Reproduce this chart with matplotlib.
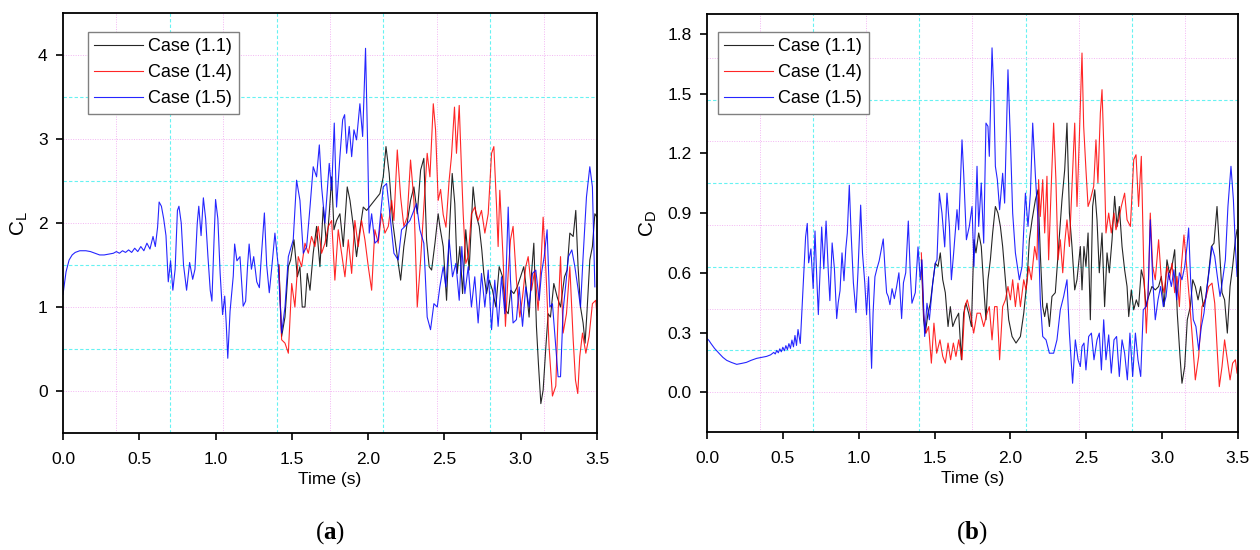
import numpy as np
import matplotlib
matplotlib.use('Agg')
import matplotlib.pyplot as plt

plt.rcParams['font.family'] = ['Liberation Sans', 'DejaVu Sans']
plt.rcParams['mathtext.fontset'] = 'custom'
plt.rcParams['mathtext.rm'] = 'Liberation Sans'
plt.rcParams['mathtext.it'] = 'Liberation Sans'
plt.rcParams['mathtext.bf'] = 'Liberation Serif:bold'

# ---- datos: (tiempo [s], valor) ----
# (a) coeficiente de sustentacion CL
cl_case11 = [(1.415,1.50),(1.433,0.65),(1.455,0.88),(1.477,1.48),(1.492,1.56),(1.514,1.80),(1.536,1.36),(1.553,1.48),
    (1.568,1.00),(1.586,1.00),(1.601,1.40),(1.619,1.20),(1.640,1.64),(1.662,1.96),(1.684,1.48),(1.706,2.19),(1.728,1.72),
    (1.745,2.11),(1.761,2.55),(1.776,1.92),(1.793,2.03),(1.815,2.11),(1.837,1.72),(1.863,2.43),(1.881,2.27),(1.903,1.96),
    (1.924,1.60),(1.946,1.92),(1.968,2.19),(1.990,2.15),(2.077,2.35),(2.099,2.55),(2.117,2.91),(2.138,2.59),(2.160,2.03),
    (2.182,1.72),(2.213,1.32),(2.234,1.72),(2.256,2.00),(2.278,2.27),(2.300,2.43),(2.322,2.11),(2.344,2.63),(2.365,2.77),
    (2.383,1.80),(2.400,1.48),(2.416,1.44),(2.438,1.76),(2.459,2.11),(2.470,1.96),(2.492,1.72),(2.514,1.08),(2.536,2.03),
    (2.551,2.59),(2.568,2.23),(2.584,1.40),(2.601,1.72),(2.619,1.16),(2.640,1.92),(2.662,1.44),(2.688,2.43),(2.706,2.11),
    (2.728,1.96),(2.745,1.68),(2.758,1.40),(2.776,1.16),(2.793,1.32),(2.815,1.20),(2.837,1.00),(2.859,1.48),(2.881,1.36),
    (2.902,0.96),(2.918,0.92),(2.935,1.20),(2.955,1.16),(2.977,1.24),(2.999,1.36),(3.020,1.48),(3.038,1.20),(3.055,0.88),
    (3.071,1.40),(3.086,1.76),(3.103,0.77),(3.116,0.33),(3.132,-0.15),(3.147,0.01),(3.165,0.53),(3.180,0.92),(3.195,0.88),
    (3.217,1.28),(3.239,1.12),(3.261,1.00),(3.287,1.36),(3.304,1.44),(3.322,1.88),(3.344,1.84),(3.361,2.15),(3.376,1.48),
    (3.392,1.00),(3.409,0.81),(3.422,0.57),(3.435,0.96),(3.453,1.56),(3.470,1.72),(3.486,2.11),(3.500,2.07)]

cl_case14 = [(1.415,1.50),(1.433,0.61),(1.455,0.57),(1.477,0.45),(1.499,1.28),(1.520,1.00),(1.542,1.60),(1.564,1.48),
    (1.586,1.76),(1.608,1.64),(1.629,1.84),(1.651,1.72),(1.673,1.96),(1.695,1.64),(1.717,1.76),(1.739,1.96),(1.761,2.03),
    (1.782,1.32),(1.804,1.92),(1.826,1.64),(1.848,1.36),(1.870,1.80),(1.892,1.40),(1.913,2.03),(1.935,1.72),(1.957,2.03),
    (1.979,1.80),(2.001,1.48),(2.023,1.20),(2.044,1.92),(2.066,1.76),(2.088,2.11),(2.110,1.88),(2.132,1.96),(2.154,2.27),
    (2.169,2.03),(2.191,2.87),(2.213,2.31),(2.234,1.96),(2.256,2.07),(2.278,2.75),(2.300,2.27),(2.322,1.00),(2.344,1.56),
    (2.365,2.19),(2.387,2.83),(2.405,2.55),(2.427,3.42),(2.442,3.11),(2.459,2.27),(2.475,2.40),(2.492,2.10),(2.510,1.95),
    (2.531,2.51),(2.546,2.79),(2.566,3.38),(2.579,2.83),(2.597,3.40),(2.612,2.63),(2.623,2.11),(2.640,1.52),(2.656,1.60),
    (2.677,2.11),(2.699,2.19),(2.721,2.03),(2.743,2.15),(2.765,1.88),(2.787,2.11),(2.809,2.83),(2.824,2.91),(2.841,2.23),
    (2.852,1.72),(2.863,2.39),(2.885,1.56),(2.900,0.77),(2.918,1.40),(2.933,1.80),(2.950,1.96),(2.972,1.32),(2.994,0.88),
    (3.012,1.12),(3.033,1.48),(3.049,1.60),(3.071,1.20),(3.092,1.44),(3.114,0.96),(3.132,1.48),(3.147,2.07),(3.165,1.44),
    (3.186,0.53),(3.208,-0.06),(3.230,0.06),(3.245,0.92),(3.261,1.60),(3.278,0.69),(3.300,0.92),(3.322,1.48),(3.344,0.61),
    (3.359,0.13),(3.374,-0.03),(3.387,0.41),(3.405,0.69),(3.427,0.45),(3.448,0.65),(3.470,1.04),(3.492,1.08),(3.500,0.90)]

cl_case15 = [(0.00,1.15),(0.02,1.42),(0.04,1.56),(0.06,1.62),(0.08,1.65),(0.11,1.67),(0.15,1.67),(0.18,1.66),(0.21,1.64),
    (0.24,1.62),(0.27,1.62),(0.30,1.63),(0.33,1.64),(0.35,1.66),(0.37,1.64),(0.39,1.67),(0.41,1.65),(0.43,1.68),(0.45,1.65),
    (0.47,1.70),(0.49,1.66),(0.51,1.72),(0.53,1.67),(0.55,1.76),(0.57,1.69),(0.59,1.84),(0.605,1.72),(0.62,1.95),(0.63,2.25),
    (0.645,2.20),(0.66,2.05),(0.675,1.85),(0.69,1.30),(0.705,1.55),(0.72,1.20),(0.735,1.45),(0.75,2.15),(0.76,2.20),
    (0.775,2.00),(0.79,1.50),(0.81,1.20),(0.83,1.53),(0.85,1.33),(0.865,1.45),(0.88,2.00),(0.89,2.20),(0.905,1.85),
    (0.92,2.30),(0.935,2.05),(0.95,1.60),(0.965,1.20),(0.976,1.07),(0.99,1.80),(1.00,2.28),(1.015,2.05),(1.03,1.40),
    (1.046,0.91),(1.06,1.13),(1.07,0.80),(1.08,0.39),(1.095,0.95),(1.116,1.37),(1.125,1.75),(1.14,1.55),(1.16,1.60),
    (1.181,1.01),(1.197,1.07),(1.21,1.50),(1.22,1.75),(1.235,1.45),(1.25,1.60),(1.27,1.30),(1.287,1.23),(1.30,1.60),
    (1.32,2.12),(1.335,1.50),(1.352,1.17),(1.37,1.50),(1.389,1.88),(1.411,1.48),(1.433,0.69),(1.455,1.00),(1.477,1.60),
    (1.509,1.80),(1.531,2.51),(1.553,2.27),(1.575,1.64),(1.597,1.72),(1.619,2.19),(1.640,2.67),(1.662,2.55),(1.680,2.93),
    (1.695,2.43),(1.717,2.00),(1.745,2.71),(1.761,2.39),(1.778,3.19),(1.793,2.19),(1.815,2.79),(1.833,3.23),(1.846,3.29),
    (1.859,2.83),(1.876,3.15),(1.892,2.79),(1.907,3.11),(1.924,2.99),(1.946,3.42),(1.964,3.03),(1.983,4.08),(1.996,2.99),
    (2.007,1.88),(2.023,2.11),(2.044,1.76),(2.066,1.80),(2.099,2.43),(2.121,2.47),(2.147,2.03),(2.169,1.64),(2.197,1.56),
    (2.219,1.92),(2.241,1.96),(2.274,2.03),(2.317,2.23),(2.339,1.92),(2.365,1.76),(2.387,0.88),(2.409,0.73),(2.431,1.04),
    (2.453,1.00),(2.470,1.24),(2.492,1.48),(2.509,1.24),(2.531,1.80),(2.553,1.36),(2.575,1.52),(2.597,1.08),(2.614,1.72),
    (2.634,1.16),(2.656,1.48),(2.677,1.00),(2.699,1.36),(2.721,0.81),(2.743,1.40),(2.765,1.00),(2.787,1.44),(2.809,0.73),
    (2.830,1.32),(2.852,0.77),(2.874,1.36),(2.896,0.92),(2.918,2.19),(2.933,1.32),(2.950,0.81),(2.972,0.85),(2.990,1.24),
    (3.012,0.77),(3.033,1.24),(3.055,1.00),(3.077,1.40),(3.099,1.44),(3.121,1.08),(3.136,1.40),(3.154,1.60),(3.173,1.92),
    (3.191,1.00),(3.208,1.04),(3.223,0.69),(3.245,0.17),(3.261,0.17),(3.278,0.96),(3.296,1.28),(3.313,1.60),(3.335,1.68),
    (3.355,1.48),(3.374,1.24),(3.392,1.00),(3.409,1.60),(3.431,2.31),(3.453,2.67),(3.470,2.43),(3.486,1.24)]

# (b) coeficiente de arrastre CD
cd_case11 = [(1.413,0.665),(1.428,0.364),(1.439,0.297),(1.457,0.397),(1.472,0.447),(1.488,0.548),(1.505,0.648),
    (1.523,0.632),(1.538,0.700),(1.554,0.565),(1.571,0.500),(1.589,0.330),(1.604,0.430),(1.620,0.330),(1.637,0.364),
    (1.659,0.397),(1.677,0.163),(1.692,0.397),(1.707,0.447),(1.725,0.397),(1.743,0.330),(1.760,0.766),(1.773,0.700),
    (1.791,0.800),(1.808,0.732),(1.824,0.531),(1.839,0.364),(1.852,0.565),(1.868,0.665),(1.883,0.800),(1.901,0.933),
    (1.918,0.900),(1.934,0.833),(1.949,0.732),(1.967,0.565),(1.989,0.364),(2.011,0.280),(2.037,0.247),(2.066,0.280),
    (2.088,0.397),(2.110,0.565),(2.125,0.766),(2.143,0.866),(2.165,0.967),(2.182,1.017),(2.197,0.700),(2.213,0.430),
    (2.226,0.380),(2.241,0.447),(2.257,0.330),(2.274,0.481),(2.296,0.500),(2.318,0.732),(2.340,0.967),(2.358,1.118),
    (2.373,1.352),(2.389,0.900),(2.406,0.732),(2.424,0.514),(2.439,0.565),(2.461,0.732),(2.472,0.514),(2.485,0.732),
    (2.498,0.632),(2.512,0.800),(2.527,0.364),(2.542,0.933),(2.556,1.017),(2.571,0.866),(2.586,0.600),(2.604,0.800),
    (2.621,0.430),(2.637,0.700),(2.652,0.600),(2.670,0.766),(2.687,0.984),(2.703,0.833),(2.718,0.933),(2.736,0.732),
    (2.753,0.615),(2.769,0.531),(2.780,0.380),(2.797,0.514),(2.813,0.414),(2.830,0.464),(2.845,0.430),(2.863,0.615),
    (2.879,0.565),(2.894,0.430),(2.911,0.481),(2.933,0.531),(2.955,0.514),(2.977,0.531),(2.995,0.582),(3.013,0.430),
    (3.032,0.665),(3.048,0.600),(3.065,0.632),(3.083,0.716),(3.100,0.397),(3.118,0.180),(3.131,0.045),(3.149,0.129),
    (3.166,0.364),(3.186,0.430),(3.202,0.565),(3.219,0.531),(3.237,0.464),(3.254,0.531),(3.272,0.430),(3.289,0.481),
    (3.307,0.600),(3.325,0.732),(3.342,0.749),(3.362,0.933),(3.377,0.732),(3.395,0.500),(3.412,0.464),(3.430,0.297),
    (3.448,0.531),(3.465,0.632),(3.483,0.766),(3.494,0.816)]

cd_case14 = [(1.413,0.700),(1.428,0.397),(1.444,0.297),(1.461,0.330),(1.479,0.146),(1.496,0.347),(1.514,0.196),
    (1.536,0.263),(1.554,0.180),(1.571,0.146),(1.589,0.247),(1.606,0.163),(1.624,0.247),(1.641,0.180),(1.659,0.263),
    (1.681,0.163),(1.699,0.430),(1.716,0.464),(1.736,0.397),(1.758,0.297),(1.780,0.397),(1.802,0.397),(1.824,0.330),
    (1.846,0.397),(1.861,0.430),(1.879,0.263),(1.896,0.430),(1.912,0.430),(1.929,0.163),(1.949,0.430),(1.967,0.464),
    (1.984,0.531),(2.000,0.464),(2.015,0.565),(2.033,0.430),(2.050,0.548),(2.066,0.430),(2.088,0.565),(2.103,0.514),
    (2.121,0.632),(2.138,0.565),(2.160,0.732),(2.175,0.665),(2.186,1.068),(2.197,0.883),(2.213,1.068),(2.226,0.800),
    (2.241,1.085),(2.252,0.665),(2.270,1.051),(2.285,1.352),(2.300,1.068),(2.314,0.665),(2.329,0.766),(2.345,0.600),
    (2.358,0.749),(2.373,0.866),(2.389,0.732),(2.406,1.034),(2.424,1.352),(2.439,0.933),(2.454,1.268),(2.472,1.704),
    (2.483,1.336),(2.498,1.118),(2.512,0.933),(2.527,0.967),(2.549,1.034),(2.564,1.268),(2.577,1.051),(2.593,1.403),
    (2.604,1.520),(2.617,1.202),(2.630,0.800),(2.648,0.900),(2.665,0.800),(2.683,0.900),(2.696,0.816),(2.714,0.866),
    (2.731,0.933),(2.753,1.000),(2.769,0.866),(2.791,0.833),(2.813,1.168),(2.828,1.193),(2.845,0.933),(2.863,1.185),
    (2.879,0.632),(2.896,0.297),(2.911,0.565),(2.922,0.900),(2.938,0.632),(2.955,0.565),(2.977,0.766),(2.995,0.565),
    (3.013,0.500),(3.032,0.632),(3.048,0.565),(3.065,0.648),(3.083,0.500),(3.098,0.582),(3.114,0.430),(3.127,0.632),
    (3.144,0.790),(3.162,0.632),(3.180,0.464),(3.197,0.297),(3.219,0.062),(3.241,0.180),(3.263,0.430),(3.285,0.464),
    (3.307,0.531),(3.329,0.548),(3.347,0.447),(3.362,0.230),(3.377,0.028),(3.395,0.129),(3.412,0.263),(3.430,0.163),
    (3.448,0.062),(3.465,0.146),(3.483,0.163),(3.494,0.096)]

cd_case15 = [(0.000,0.270),(0.013,0.260),(0.026,0.245),(0.050,0.220),(0.080,0.195),(0.105,0.175),(0.130,0.160),
    (0.160,0.150),(0.196,0.140),(0.230,0.145),(0.260,0.150),(0.290,0.160),(0.327,0.170),(0.360,0.175),(0.393,0.180),
    (0.420,0.188),(0.440,0.200),(0.450,0.192),(0.460,0.210),(0.470,0.198),(0.480,0.218),(0.490,0.203),(0.500,0.226),
    (0.510,0.208),(0.520,0.234),(0.530,0.214),(0.540,0.244),(0.550,0.220),(0.560,0.262),(0.570,0.228),(0.580,0.285),
    (0.590,0.235),(0.600,0.315),(0.615,0.245),(0.625,0.400),(0.635,0.560),(0.650,0.780),(0.661,0.848),(0.670,0.650),
    (0.685,0.720),(0.700,0.520),(0.712,0.810),(0.725,0.550),(0.734,0.390),(0.745,0.600),(0.756,0.830),(0.770,0.620),
    (0.785,0.860),(0.800,0.600),(0.810,0.460),(0.825,0.750),(0.840,0.620),(0.855,0.370),(0.865,0.450),(0.877,0.510),
    (0.890,0.700),(0.903,0.560),(0.915,0.720),(0.925,0.800),(0.938,1.040),(0.950,0.800),(0.965,0.550),(0.982,0.400),
    (0.995,0.600),(1.013,0.940),(1.025,0.700),(1.040,0.550),(1.052,0.390),(1.065,0.580),(1.075,0.350),(1.085,0.120),
    (1.095,0.400),(1.107,0.580),(1.120,0.620),(1.135,0.660),(1.150,0.720),(1.162,0.770),(1.175,0.600),(1.184,0.500),
    (1.195,0.480),(1.206,0.440),(1.220,0.520),(1.235,0.470),(1.250,0.530),(1.265,0.600),(1.283,0.370),(1.295,0.550),
    (1.310,0.600),(1.327,0.860),(1.340,0.600),(1.351,0.447),(1.373,0.500),(1.391,0.730),(1.406,0.565),(1.417,0.665),
    (1.435,0.280),(1.450,0.447),(1.466,0.364),(1.488,0.548),(1.505,0.648),(1.516,0.665),(1.532,1.000),(1.549,0.900),
    (1.567,0.730),(1.582,1.000),(1.598,0.833),(1.611,0.565),(1.626,0.700),(1.648,0.917),(1.659,0.816),(1.681,1.268),
    (1.692,1.100),(1.710,0.766),(1.729,0.833),(1.747,0.933),(1.760,0.632),(1.780,1.135),(1.791,0.833),(1.808,1.051),
    (1.824,0.749),(1.839,1.352),(1.852,1.336),(1.861,1.185),(1.879,1.730),(1.890,1.520),(1.901,1.135),(1.914,1.068),
    (1.929,0.917),(1.949,1.100),(1.962,0.950),(1.984,1.620),(2.000,1.268),(2.015,0.900),(2.033,0.700),(2.059,0.565),
    (2.077,0.632),(2.099,1.000),(2.116,0.833),(2.132,1.000),(2.147,1.352),(2.165,1.085),(2.182,0.866),(2.197,0.464),
    (2.213,0.280),(2.235,0.263),(2.257,0.196),(2.285,0.196),(2.307,0.263),(2.329,0.414),(2.351,0.481),(2.373,0.565),
    (2.389,0.297),(2.410,0.045),(2.428,0.263),(2.446,0.163),(2.461,0.129),(2.472,0.230),(2.485,0.247),(2.498,0.112),
    (2.516,0.280),(2.534,0.297),(2.551,0.163),(2.571,0.263),(2.586,0.297),(2.600,0.112),(2.615,0.364),(2.630,0.163),
    (2.648,0.288),(2.665,0.096),(2.683,0.263),(2.700,0.280),(2.718,0.079),(2.736,0.263),(2.753,0.196),(2.771,0.062),
    (2.788,0.297),(2.806,0.079),(2.824,0.297),(2.841,0.163),(2.859,0.079),(2.876,0.414),(2.894,0.430),(2.907,0.481),
    (2.922,0.866),(2.938,0.565),(2.955,0.364),(2.973,0.464),(2.990,0.531),(3.008,0.430),(3.026,0.481),(3.043,0.600),
    (3.061,0.531),(3.078,0.615),(3.096,0.464),(3.114,0.600),(3.131,0.565),(3.149,0.632),(3.164,0.732),(3.175,0.825),
    (3.188,0.565),(3.206,0.364),(3.223,0.330),(3.241,0.213),(3.259,0.330),(3.276,0.397),(3.294,0.514),(3.311,0.615),
    (3.329,0.732),(3.347,0.682),(3.364,0.582),(3.382,0.481),(3.399,0.565),(3.417,0.665),(3.434,0.933),(3.454,1.135),
    (3.470,0.967),(3.483,0.732),(3.494,0.582)]

etiquetas = ['Case (1.1)', 'Case (1.4)', 'Case (1.5)']
colores = ['#000000', '#ff0000', '#0000ff']

'''Dibuja la rejilla desplazada tipo Origin'''
def rejilla(ax, pasoX, pasoY, ymin, ymax):
    for k in range(1, 10):
        x = k*pasoX
        if x >= 3.5:
            break
        if k % 2 == 0:
            ax.axvline(x, color='#66f2f2', lw=0.8, ls=(0, (3, 2)), zorder=0)
        else:
            ax.axvline(x, color='#f3b6f3', lw=0.7, ls=(0, (1, 1.5)), zorder=0)
    k = 0
    while True:
        y = k*pasoY
        if y >= ymax-0.05:
            break
        if y > ymin:
            if k % 2 == 0:
                ax.axhline(y, color='#f3b6f3', lw=0.7, ls=(0, (1, 1.5)), zorder=0)
            else:
                ax.axhline(y, color='#66f2f2', lw=0.8, ls=(0, (3, 2)), zorder=0)
        k += 1

'''Grafica un panel con las tres series'''
def panel(ax, series, ymin, ymax, yticks, fmt, ylabel, pasoY, leg_anchor):
    rejilla(ax, 0.35, pasoY, ymin, ymax)
    for datos, nombre, c in zip(series, etiquetas, colores):
        d = np.array(datos)
        ax.plot(d[:, 0], d[:, 1], color=c, lw=0.8, alpha=0.85, label=nombre)
    ax.set_xlim(0, 3.5)
    ax.set_ylim(ymin, ymax)
    ax.set_xticks(np.arange(0, 3.51, 0.5))
    ax.set_xticklabels(['%.1f' % v for v in np.arange(0, 3.51, 0.5)])
    ax.set_yticks(yticks)
    ax.set_yticklabels([fmt % v for v in yticks])
    ax.tick_params(axis='x', pad=9)
    ax.tick_params(direction='out', length=5, width=1.2, labelsize=12.5,
                   top=False, right=False)
    ax.tick_params(axis='y', pad=6)
    for s in ax.spines.values():
        s.set_linewidth(1.3)
    ax.set_xlabel('Time (s)', fontsize=12.5, labelpad=3)
    ax.set_ylabel(ylabel, fontsize=15, labelpad=6)
    leg = ax.legend(loc='upper left', bbox_to_anchor=leg_anchor, borderaxespad=0,
                    fontsize=13, handlelength=2.7, handletextpad=0.3,
                    labelspacing=0.5, borderpad=0.35, fancybox=False, framealpha=1)
    leg.get_frame().set_edgecolor('#808080')
    leg.get_frame().set_linewidth(1.0)

fig = plt.figure(figsize=(12.6, 5.5), dpi=100)
ax1 = fig.add_axes([0.05, 0.2127, 0.4238, 0.7636])
ax2 = fig.add_axes([0.5611, 0.2145, 0.4214, 0.76])

panel(ax1, [cl_case11, cl_case14, cl_case15], -0.5, 4.5, [0, 1, 2, 3, 4], '%d',
      r'$\mathrm{C_L}$', 0.5, (25/534, 1-19/420))
panel(ax2, [cd_case11, cd_case14, cd_case15], -0.2, 1.9, [0.0, 0.3, 0.6, 0.9, 1.2, 1.5, 1.8], '%.1f',
      r'$\mathrm{C_D}$', 0.21, (11/531, 1-18/418))

fig.text(0.262, 0.031, r'($\mathbf{a}$)', ha='center', va='center', fontsize=18, family='Liberation Serif')
fig.text(0.771, 0.031, r'($\mathbf{b}$)', ha='center', va='center', fontsize=18, family='Liberation Serif')

plt.savefig('out.png', dpi=100)
